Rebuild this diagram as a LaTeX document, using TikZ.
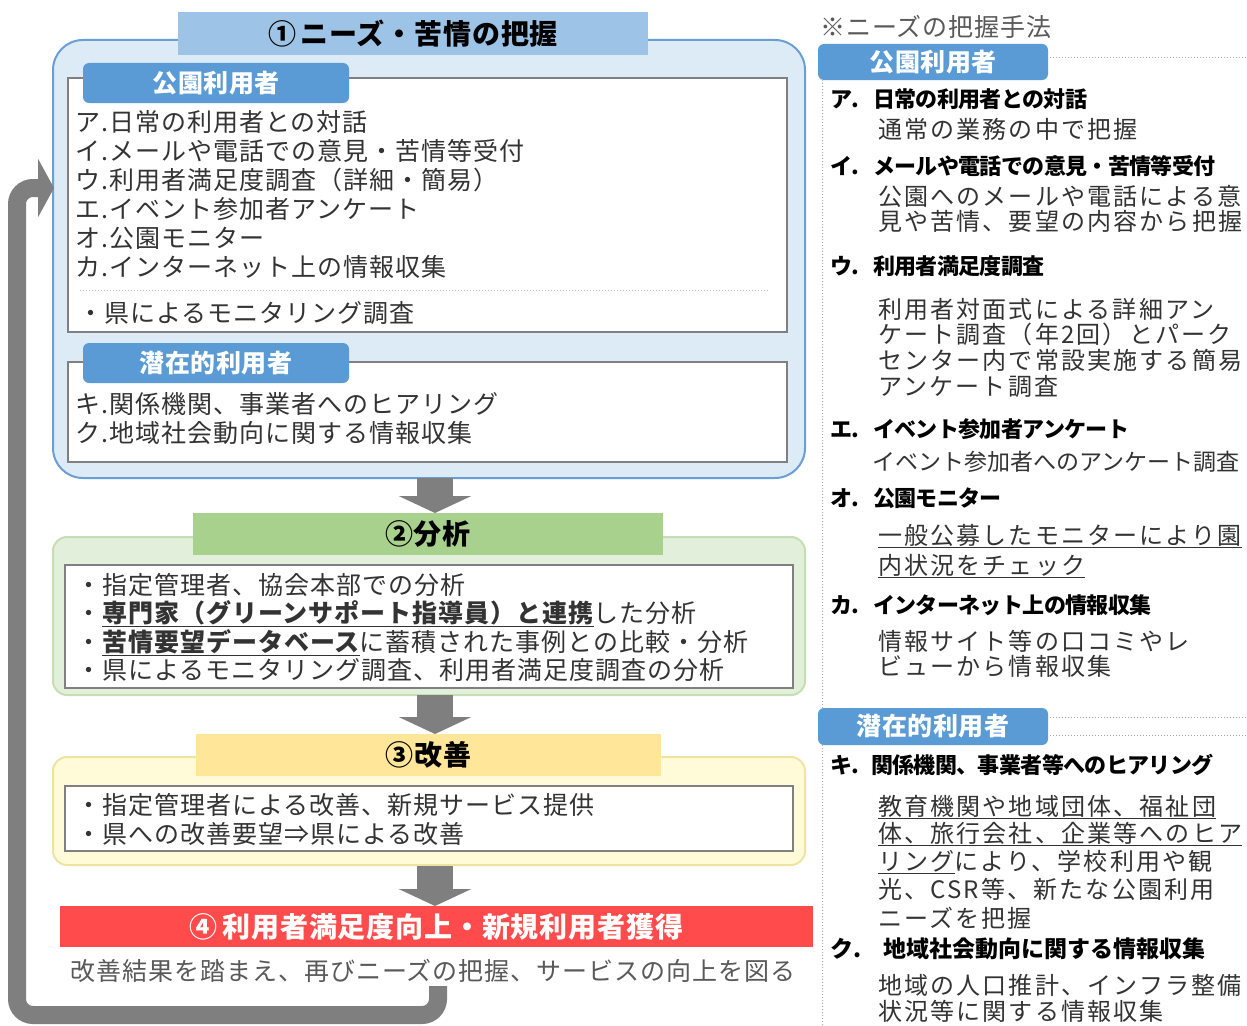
\documentclass[tikz,border=0pt]{standalone}
\usepackage{fontspec}
\setmainfont{Noto Sans CJK JP}
\usetikzlibrary{arrows.meta}
\pgfdeclarelayer{boxlayer}
\pgfdeclarelayer{edgelayer}
\pgfdeclarelayer{nodelayer}
\pgfsetlayers{boxlayer,edgelayer,nodelayer,main}
\definecolor{tabblue}{HTML}{5B9BD5}
\definecolor{barblue}{HTML}{9DC3E6}
\definecolor{paleblue}{HTML}{DDEBF7}
\definecolor{edgeblue}{HTML}{6A9FD6}
\definecolor{bargreen}{HTML}{A9D18E}
\definecolor{palegreen}{HTML}{E2EFDA}
\definecolor{edgegreen}{HTML}{C5DFB3}
\definecolor{baryellow}{HTML}{FFE699}
\definecolor{paleyellow}{HTML}{FFFBD9}
\definecolor{edgeyellow}{HTML}{EEE3A3}
\definecolor{barred}{HTML}{FF4B4B}
\definecolor{flowgray}{HTML}{7F7F7F}
\definecolor{boxgray}{HTML}{808080}
\definecolor{inkgray}{HTML}{333333}
\definecolor{softgray}{HTML}{595959}
\tikzset{font=\fontsize{25}{29}\selectfont}
\tikzstyle{none}=[inner sep=0pt]
\tikzstyle{frame}=[rectangle, inner sep=0pt, line width=2pt]
\tikzstyle{outer}=[frame, minimum width=752pt]
\tikzstyle{inner}=[frame, draw=boxgray, fill=white, line width=1.6pt]
\tikzstyle{bar}=[rectangle, inner sep=0pt, minimum height=42pt, font=\bfseries\fontsize{28}{30}\selectfont\addfontfeature{LetterSpace=3}]
\tikzstyle{tab}=[rectangle, rounded corners=6pt, inner sep=0pt, fill=tabblue, text=white, minimum width=266pt, minimum height=40pt, font=\bfseries\fontsize{25}{28}\selectfont\addfontfeature{LetterSpace=2}]
\tikzstyle{ln}=[anchor=west, inner sep=0pt, text height=22pt, text depth=3pt, text=inkgray, font=\fontsize{25}{29}\selectfont\addfontfeature{LetterSpace=4}]
\tikzstyle{head}=[anchor=west, inner sep=0pt, text height=19.5pt, text depth=2.5pt, text=black, font=\bfseries\fontsize{22}{25}\selectfont\addfontfeature{LetterSpace=-3}]
\tikzstyle{desc}=[anchor=west, inner sep=0pt, text height=21pt, text depth=3pt, text=inkgray, font=\fontsize{24}{26}\selectfont\addfontfeature{LetterSpace=9}]
\tikzstyle{flow}=[draw=flowgray, line width=36pt, -{Triangle[width=72pt,length=17pt]}]
\tikzstyle{back}=[draw=flowgray, line width=18pt, rounded corners=16pt, -{Triangle[width=58pt,length=16pt]}]
\tikzstyle{dots}=[draw=boxgray!70, line width=1pt, dotted]

\begin{document}
\begin{tikzpicture}[x=1pt,y=-1pt]
	\useasboundingbox (0,0) rectangle (1247,1025);
	\begin{pgfonlayer}{boxlayer}
		\fill [white] (0,0) rectangle (1247,1025);
		% left column: frames and headings
		\node [style=outer, draw=edgeblue, fill=paleblue, rounded corners=30pt, minimum height=438pt] (needs) at (429, 259) {};
		\node [style=bar, fill=barblue, minimum width=470pt, minimum height=43pt] (needsbar) at (413, 33.5) {①\,ニーズ・苦情の把握};
		\node [style=inner, minimum width=719pt, minimum height=254pt] (users) at (427.5, 205) {};
		\node [style=tab] (userstab) at (216, 83) {公園利用者};
		\node [style=inner, minimum width=719pt, minimum height=100pt] (latent) at (427.5, 412) {};
		\node [style=tab] (latenttab) at (216, 363) {潜在的利用者};
		\node [style=outer, draw=edgegreen, fill=palegreen, rounded corners=14pt, minimum height=158pt] (analysis) at (429, 616) {};
		\node [style=bar, fill=bargreen, minimum width=470pt] (analysisbar) at (428, 534) {②分析};
		\node [style=inner, minimum width=728pt, minimum height=123pt] (analysisin) at (429, 626.5) {};
		\node [style=outer, draw=edgeyellow, fill=paleyellow, rounded corners=14pt, minimum height=108pt] (improve) at (429, 811) {};
		\node [style=bar, fill=baryellow, minimum width=465pt] (improvebar) at (428.5, 755) {③改善};
		\node [style=inner, minimum width=728pt, minimum height=65pt] (improvein) at (429, 818.5) {};
		\node [style=bar, fill=barred, text=white, minimum width=753pt, minimum height=41pt] (goal) at (436.5, 926.5) {④\,利用者満足度向上・新規利用者獲得};
		% right column
		\node [style=none] (40) at (822, 80) {};
		\node [style=none] (41) at (822, 708) {};
		\node [style=none] (42) at (822, 745) {};
		\node [style=none] (43) at (822, 1025) {};
		\draw [style=dots] (40.center) to (41.center);
		\draw [style=dots] (42.center) to (43.center);
		\node [style=tab, minimum width=230pt, minimum height=36pt] (methodtab1) at (933, 62) {公園利用者};
		\node [style=tab, minimum width=230pt, minimum height=37pt] (methodtab2) at (933, 726.5) {潜在的利用者};
	\end{pgfonlayer}
	\begin{pgfonlayer}{nodelayer}
		\node [style=none] (0) at (80, 290) {};
		\node [style=none] (1) at (770, 290) {};
		\node [style=ln] (a) at (75, 122) {ア.日常の利用者との対話};
		\node [style=ln] (b) at (75, 151) {イ.メールや電話での意見・苦情等受付};
		\node [style=ln] (c) at (75, 180) {ウ.利用者満足度調査（詳細・簡易）};
		\node [style=ln] (d) at (75, 209) {エ.イベント参加者アンケート};
		\node [style=ln] (e) at (75, 238) {オ.公園モニター};
		\node [style=ln] (f) at (75, 267) {カ.インターネット上の情報収集};
		\node [style=ln] (g) at (78, 313) {・県によるモニタリング調査};
		\node [style=ln] (h) at (75, 404) {キ.関係機関、事業者へのヒアリング};
		\node [style=ln] (i) at (75, 433) {ク.地域社会動向に関する情報収集};
		\node [style=ln] (an1) at (76, 585) {・指定管理者、協会本部での分析};
		\node [style=ln] (an2) at (76, 613) {・\textbf{\underline{専門家（グリーンサポート指導員）と連携}}した分析};
		\node [style=ln] (an3) at (76, 642) {・\textbf{\underline{苦情要望データベース}}に蓄積された事例との比較・分析};
		\node [style=ln] (an4) at (76, 670) {・県によるモニタリング調査、利用者満足度調査の分析};
		\node [style=ln] (im1) at (76, 805) {・指定管理者による改善、新規サービス提供};
		\node [style=ln] (im2) at (76, 834) {・県への改善要望⇒県による改善};
		\node [style=ln, text=softgray] (again) at (70, 971) {改善結果を踏まえ、再びニーズの把握、サービスの向上を図る};
		% right column texts
		\node [style=ln, text=softgray] (note) at (820, 27) {※ニーズの把握手法};
		\node [style=head] (ra) at (830, 99) {ア.\hspace{14pt}日常の利用者との対話};
		\node [style=desc] (ra1) at (878, 129) {通常の業務の中で把握};
		\node [style=head] (rb) at (830, 166) {イ.\hspace{14pt}メールや電話での意見・苦情等受付};
		\node [style=desc] (rb1) at (878, 196) {公園へのメールや電話による意};
		\node [style=desc] (rb2) at (878, 221) {見や苦情、要望の内容から把握};
		\node [style=head] (rc) at (830, 266) {ウ.\hspace{14pt}利用者満足度調査};
		\node [style=desc] (rc1) at (878, 309) {利用者対面式による詳細アン};
		\node [style=desc] (rc2) at (878, 334) {ケート調査（年2回）とパーク};
		\node [style=desc] (rc3) at (878, 360) {センター内で常設実施する簡易};
		\node [style=desc] (rc4) at (878, 386) {アンケート調査};
		\node [style=head] (rd) at (830, 429) {エ.\hspace{14pt}イベント参加者アンケート};
		\node [style=desc, font=\fontsize{23}{26}\selectfont] (rd1) at (872, 461) {イベント参加者へのアンケート調査};
		\node [style=head] (re) at (830, 498) {オ.\hspace{14pt}公園モニター};
		\node [style=desc] (re1) at (878, 535) {\underline{一般公募したモニターにより園}};
		\node [style=desc] (re2) at (878, 565) {\underline{内状況をチェック}};
		\node [style=head] (rf) at (830, 605) {カ.\hspace{14pt}インターネット上の情報収集};
		\node [style=desc] (rf1) at (878, 641) {情報サイト等の口コミやレ};
		\node [style=desc] (rf2) at (878, 666) {ビューから情報収集};
		\node [style=head] (rg) at (830, 765) {キ.\hspace{12pt}関係機関、事業者等へのヒアリング};
		\node [style=desc] (rg1) at (878, 806) {\underline{教育機関や地域団体、福祉団}};
		\node [style=desc] (rg2) at (878, 833) {\underline{体、旅行会社、企業等へのヒア}};
		\node [style=desc] (rg3) at (878, 861) {\underline{リング}により、学校利用や観};
		\node [style=desc] (rg4) at (878, 889) {光、CSR等、新たな公園利用};
		\node [style=desc] (rg5) at (878, 918) {ニーズを把握};
		\node [style=head, font=\bfseries\fontsize{23}{26}\selectfont] (rh) at (830, 949) {ク.\hspace{22pt}地域社会動向に関する情報収集};
		\node [style=desc] (rh1) at (878, 985) {地域の人口推計、インフラ整備};
		\node [style=desc] (rh2) at (878, 1011) {状況等に関する情報収集};
		% helper points for arrows and lines
		\node [style=none] (20) at (435, 478) {};
		\node [style=none] (21) at (435, 513) {};
		\node [style=none] (22) at (435, 695) {};
		\node [style=none] (23) at (435, 734) {};
		\node [style=none] (24) at (435, 866) {};
		\node [style=none] (25) at (435, 906) {};
		\node [style=none] (30) at (438, 986) {};
		\node [style=none] (31) at (438, 1015) {};
		\node [style=none] (32) at (17, 1015) {};
		\node [style=none] (33) at (17, 188) {};
		\node [style=none] (34) at (54, 188) {};
		\node [style=none] (44) at (1050, 58) {};
		\node [style=none] (45) at (1247, 58) {};
		\node [style=none] (46) at (1050, 717) {};
		\node [style=none] (47) at (1247, 717) {};
		\node [style=none] (48) at (1050, 735) {};
		\node [style=none] (49) at (1247, 735) {};
	\end{pgfonlayer}
	\begin{pgfonlayer}{edgelayer}
		\draw [style=dots, draw=boxgray!50] (0.center) to (1.center);
		\draw [style=flow] (20.center) to (21.center);
		\draw [style=flow] (22.center) to (23.center);
		\draw [style=flow] (24.center) to (25.center);
		\draw [style=back] (30.center) -- (31.center) -- (32.center) -- (33.center) -- (34.center);
		\draw [style=dots] (44.center) to (45.center);
		\draw [style=dots] (46.center) to (47.center);
		\draw [style=dots] (48.center) to (49.center);
	\end{pgfonlayer}
\end{tikzpicture}
\end{document}
